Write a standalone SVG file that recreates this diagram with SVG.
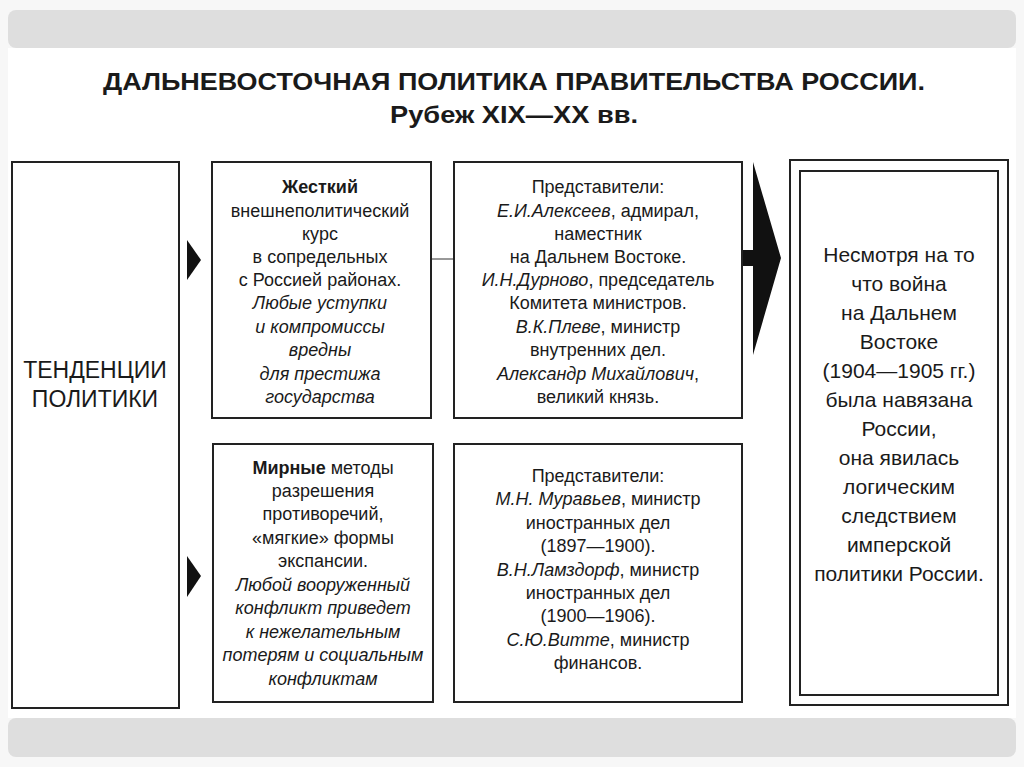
<svg xmlns="http://www.w3.org/2000/svg" width="1024" height="767" viewBox="0 0 1024 767">
<style>
text{font-family:"Liberation Sans",Arial,sans-serif;fill:#1a1a1a;text-anchor:middle}
.t{font-size:18px}
.i{font-style:italic}
.b{font-weight:bold}
.box{fill:#fff;stroke:#222;stroke-width:2}
.h{font-size:23px;font-weight:bold}
.r{font-size:21px}
.l{font-size:23px}
</style>
<rect width="1024" height="767" fill="#f7f7f7"/>
<rect x="8" y="10" width="1008" height="38" rx="8" fill="#dedede"/>
<rect x="8" y="718" width="1008" height="39" rx="8" fill="#dedede"/>
<rect x="8" y="48" width="1008" height="670" fill="#fff"/>
<text class="h" x="514" y="90" textLength="822" lengthAdjust="spacingAndGlyphs">ДАЛЬНЕВОСТОЧНАЯ ПОЛИТИКА ПРАВИТЕЛЬСТВА РОССИИ.</text>
<text class="h" x="514" y="123" textLength="248" lengthAdjust="spacingAndGlyphs">Рубеж XIX—XX вв.</text>
<g id="connectors">
<polygon points="187,240 201,260 187,280" fill="#111"/>
<polygon points="187,556 201,576 187,597" fill="#111"/>
<line x1="431" y1="259" x2="454" y2="259" stroke="#333" stroke-width="1"/>
<polygon points="742,250 753,250 753,162 781,258 753,355 753,266 742,266" fill="#111"/>
</g>
<g id="tendencies">
<rect class="box" x="12" y="162" width="167" height="546"/>
<text class="l" x="95" y="378">ТЕНДЕНЦИИ</text>
<text class="l" x="95" y="407">ПОЛИТИКИ</text>
</g>
<g id="hard">
<rect class="box" x="212" y="162" width="219" height="256"/>
<text class="t" x="320" y="193"><tspan class="b">Жесткий</tspan></text>
<text class="t" x="320" y="217">внешнеполитический</text>
<text class="t" x="320" y="240">курс</text>
<text class="t" x="320" y="263">в сопредельных</text>
<text class="t" x="320" y="286">с Россией районах.</text>
<text class="t i" x="320" y="309">Любые уступки</text>
<text class="t i" x="320" y="333">и компромиссы</text>
<text class="t i" x="320" y="356">вредны</text>
<text class="t i" x="320" y="380">для престижа</text>
<text class="t i" x="320" y="403">государства</text>
</g>
<g id="hard-reps">
<rect class="box" x="454" y="162" width="288" height="256"/>
<text class="t" x="598" y="193">Представители:</text>
<text class="t" x="598" y="217"><tspan class="i">Е.И.Алексеев</tspan>, адмирал,</text>
<text class="t" x="598" y="240">наместник</text>
<text class="t" x="598" y="263">на Дальнем Востоке.</text>
<text class="t" x="598" y="286"><tspan class="i">И.Н.Дурново</tspan>, председатель</text>
<text class="t" x="598" y="309">Комитета министров.</text>
<text class="t" x="598" y="333"><tspan class="i">В.К.Плеве</tspan>, министр</text>
<text class="t" x="598" y="356">внутренних дел.</text>
<text class="t" x="598" y="380"><tspan class="i">Александр Михайлович</tspan>,</text>
<text class="t" x="598" y="403">великий князь.</text>
</g>
<g id="peace">
<rect class="box" x="213" y="444" width="220" height="258"/>
<text class="t" x="323" y="474"><tspan class="b">Мирные</tspan> методы</text>
<text class="t" x="323" y="497">разрешения</text>
<text class="t" x="323" y="520">противоречий,</text>
<text class="t" x="323" y="544">«мягкие» формы</text>
<text class="t" x="323" y="567">экспансии.</text>
<text class="t i" x="323" y="591">Любой вооруженный</text>
<text class="t i" x="323" y="614">конфликт приведет</text>
<text class="t i" x="323" y="638">к нежелательным</text>
<text class="t i" x="323" y="661">потерям и социальным</text>
<text class="t i" x="323" y="685">конфликтам</text>
</g>
<g id="peace-reps">
<rect class="box" x="454" y="444" width="288" height="258"/>
<text class="t" x="598" y="482">Представители:</text>
<text class="t" x="598" y="505"><tspan class="i">М.Н. Муравьев</tspan>, министр</text>
<text class="t" x="598" y="529">иностранных дел</text>
<text class="t" x="598" y="552">(1897—1900).</text>
<text class="t" x="598" y="576"><tspan class="i">В.Н.Ламздорф</tspan>, министр</text>
<text class="t" x="598" y="599">иностранных дел</text>
<text class="t" x="598" y="622">(1900—1906).</text>
<text class="t" x="598" y="646"><tspan class="i">С.Ю.Витте</tspan>, министр</text>
<text class="t" x="598" y="669">финансов.</text>
</g>
<g id="conclusion">
<rect class="box" x="790" y="160" width="218" height="545"/>
<rect class="box" x="800" y="171" width="198" height="524"/>
<text class="r" x="899" y="262">Несмотря на то</text>
<text class="r" x="899" y="291">что война</text>
<text class="r" x="899" y="320">на Дальнем</text>
<text class="r" x="899" y="349">Востоке</text>
<text class="r" x="899" y="378">(1904—1905 гг.)</text>
<text class="r" x="899" y="407">была навязана</text>
<text class="r" x="899" y="436">России,</text>
<text class="r" x="899" y="465">она явилась</text>
<text class="r" x="899" y="494">логическим</text>
<text class="r" x="899" y="523">следствием</text>
<text class="r" x="899" y="552">имперской</text>
<text class="r" x="899" y="581">политики России.</text>
</g>
</svg>
